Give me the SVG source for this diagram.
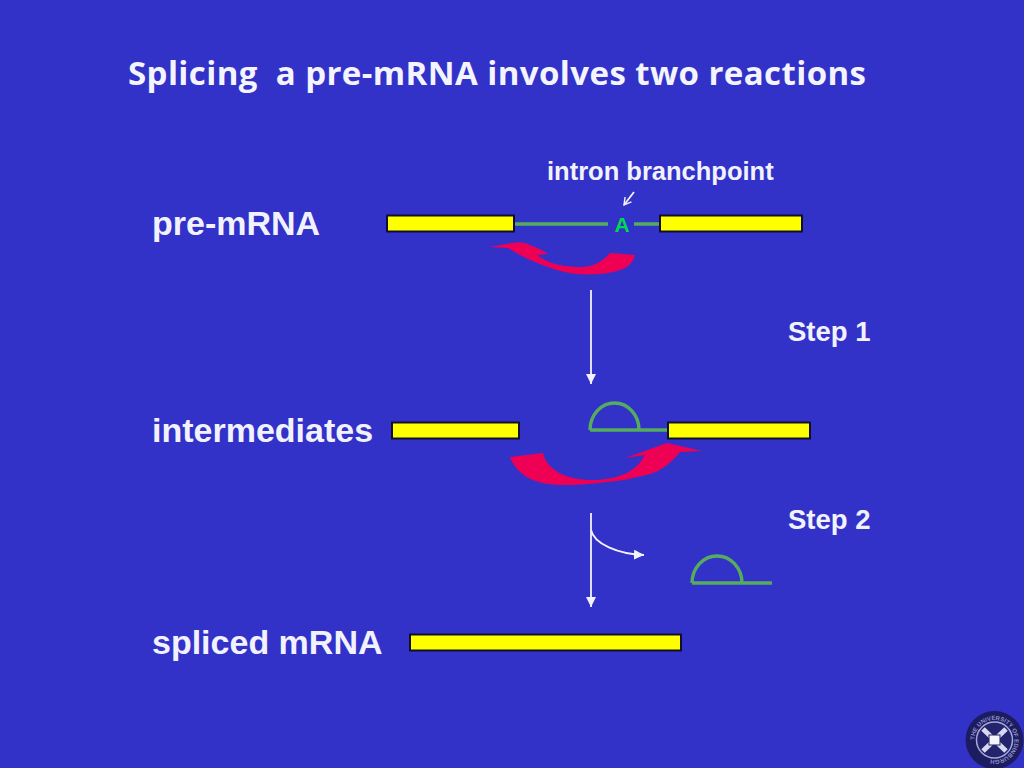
<svg xmlns="http://www.w3.org/2000/svg" width="1024" height="768" viewBox="0 0 1024 768">
<style>
.lab{font-family:"Liberation Sans",Arial,sans-serif;font-weight:700;fill:#f2f2ff;font-size:34px}
.sm{font-family:"Liberation Sans",Arial,sans-serif;font-weight:700;fill:#f2f2ff;font-size:27.500px}
.title{font-family:"Open Sans","DejaVu Sans",sans-serif;font-weight:700;fill:#f4f4ff;font-size:33px}
.bar{fill:#ffff00;stroke:#10102a;stroke-width:2}
.rna{fill:none;stroke:#55ac5c;stroke-width:3.500}
.wire{fill:none;stroke:#f2f2ff;stroke-width:1.800}
.red{fill:#ee0055}
</style>
<defs>
<marker id="ah" markerUnits="userSpaceOnUse" markerWidth="12" markerHeight="12" refX="10" refY="5" orient="auto"><path d="M0 0L10 5L0 10Z" fill="#f2f2ff"/></marker>
<marker id="oa" markerUnits="userSpaceOnUse" markerWidth="10" markerHeight="10" refX="8" refY="4.500" orient="auto"><path d="M1 0.500L8 4.500L1 8.500" fill="none" stroke="#f2f2ff" stroke-width="1.400"/></marker>
<path id="crestArc" d="M974.500 746a20 20 0 1 1 40 0a20 20 0 1 1-40 0"/>
</defs>
<rect width="1024" height="768" fill="#3232c8"/>
<text id="title" class="title" x="128" y="85" textLength="738" lengthAdjust="spacing" xml:space="preserve">Splicing  a pre-mRNA involves two reactions</text>
<g id="connectors">
<path class="wire" d="M591 290V384" marker-end="url(#ah)"/>
<path class="wire" d="M591 513V607" marker-end="url(#ah)"/>
<path class="wire" d="M591 530C594 544 618 554 644 555" marker-end="url(#ah)"/>
<path class="wire" d="M634 192L624 205" marker-end="url(#oa)"/>
</g>
<g id="pre-mrna">
<text class="lab" x="152" y="235">pre-mRNA</text>
<path class="rna" d="M514 224H608M634 224H660"/>
<rect class="bar" x="387" y="215.500" width="127" height="16"/>
<rect class="bar" x="660" y="215.500" width="142" height="16"/>
<text x="622" y="232" text-anchor="middle" style="font-family:'Liberation Sans',Arial,sans-serif;font-weight:700;font-size:21px;fill:#00d855">A</text>
<text id="branchpoint" class="sm" style="font-size:25.500px" x="547" y="180">intron branchpoint</text>
<path class="red" d="M490 247L512 243Q523 241 530 245Q541 249 548 254L537 255C545 262 560 267 580 267C595 267 604 260 610 253L635 255C633 264 625 270 613 272C600 275 575 276 557 270C540 265 522 257 508 248Z"/>
</g>
<text id="step1" class="sm" x="788" y="341">Step 1</text>
<g id="intermediates">
<text class="lab" x="152" y="442">intermediates</text>
<rect class="bar" x="392" y="422.500" width="127" height="16"/>
<path class="rna" d="M590 430A24.500 27 0 0 1 639 430M590 430H668"/>
<rect class="bar" x="668" y="422.500" width="142" height="16"/>
<path class="red" d="M510 457L543 453C545 464 556 474 573 478C592 482 612 480 627 473C636 468 641 462 645 455L625 458L667 443L702 451L680 452C674 460 668 464 663 468C655 473 648 475 637 477C625 480 618 481 607 482C590 484 580 485 567 485C550 485 540 483 533 480C522 476 513 466 510 457Z"/>
</g>
<text id="step2" class="sm" x="788" y="529">Step 2</text>
<g id="lariat"><path class="rna" d="M692 583A25 27 0 0 1 742 583M692 583H772"/></g>
<g id="spliced-mrna">
<text class="lab" x="152" y="654">spliced mRNA</text>
<rect class="bar" x="410" y="634.500" width="271" height="16"/>
</g>
<g id="crest">
<circle cx="994.500" cy="740" r="29" fill="#1c1c60"/>
<circle cx="994.500" cy="740" r="18" fill="#23236e" stroke="#a8a8d8" stroke-width="1.500"/>
<path d="M983 729L1006 751M1006 729L983 751" stroke="#d8d8f0" stroke-width="5"/>
<rect x="989" y="735" width="11" height="10" fill="#f4f4ff" stroke="#20205a"/>
<text font-family="Liberation Sans,Arial,sans-serif" font-size="6" font-weight="700" fill="#9090c8" transform="translate(0 -6)"><textPath href="#crestArc">THE UNIVERSITY OF EDINBURGH</textPath></text>
</g>
</svg>
